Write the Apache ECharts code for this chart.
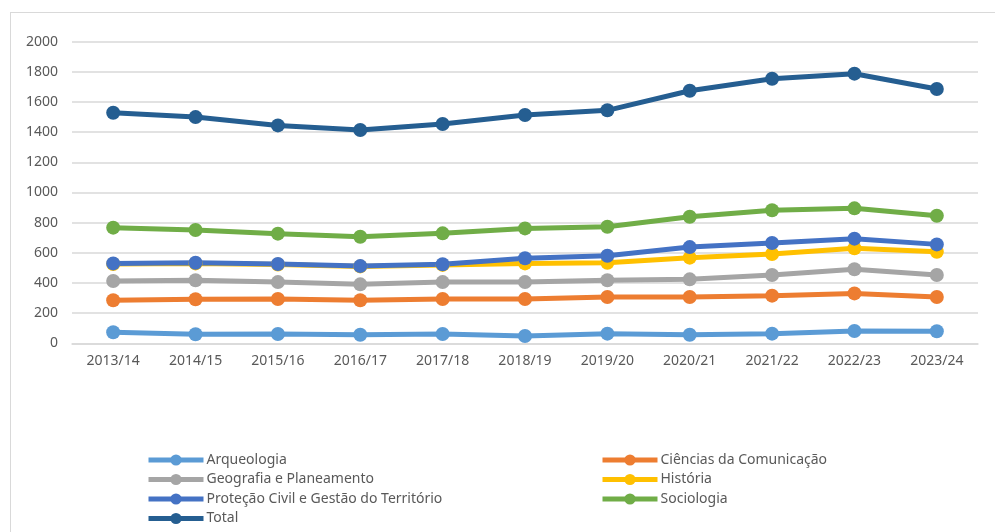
<!DOCTYPE html>
<html>
<head>
<meta charset="utf-8">
<script src="https://cdn.jsdelivr.net/npm/echarts@6/dist/echarts.min.js"></script>
<style>
  html, body { margin: 0; padding: 0; background: #fff; }
  #frame { position: absolute; left: 10px; top: 12px; width: 1000px; height: 540px; border: 1px solid #d9d9d9; }
  #chart { position: absolute; left: 0; top: 0; width: 995px; height: 532px; }
</style>
</head>
<body>
<div id="frame"></div>
<div id="chart"></div>
<script>
const years = ["2013/14", "2014/15", "2015/16", "2016/17", "2017/18", "2018/19", "2019/20", "2020/21", "2021/22", "2022/23", "2023/24"];

const arqueologia = [73, 60, 62, 57, 62, 48, 64, 57, 64, 82, 80];
const ciencias = [285, 292, 294, 285, 294, 294, 307, 307, 316, 331, 307];
const geografia = [413, 418, 406, 391, 406, 406, 418, 424, 453, 491, 453];
const historia = [526, 530, 522, 510, 520, 530, 534, 568, 592, 630, 607];
const protecao = [530, 534, 526, 512, 524, 564, 581, 638, 665, 694, 656];
const sociologia = [767, 751, 727, 707, 729, 762, 773, 839, 882, 895, 846];
const total = [1529, 1500, 1445, 1414, 1454, 1514, 1545, 1675, 1754, 1788, 1686];

const seriesDefs = [
  { name: "Arqueologia", data: arqueologia, color: "#5B9BD5" },
  { name: "Ciências da Comunicação", data: ciencias, color: "#ED7D31" },
  { name: "Geografia e Planeamento", data: geografia, color: "#A5A5A5" },
  { name: "História", data: historia, color: "#FFC000" },
  { name: "Proteção Civil e Gestão do Território", data: protecao, color: "#4472C4" },
  { name: "Sociologia", data: sociologia, color: "#70AD47" },
  { name: "Total", data: total, color: "#255E91" }
];

const textColor = "#595959";
const font = "'Noto Sans', sans-serif";

const legendBase = {
  orient: "vertical",
  padding: 0,
  height: 100,
  itemWidth: 55,
  itemHeight: 14,
  itemGap: 5.5,
  lineStyle: { width: 5 },
  textStyle: { color: textColor, fontSize: 14, fontFamily: font, padding: [0, 0, 0, -2] },
  selectedMode: false
};

const chart = echarts.init(document.getElementById("chart"));
chart.setOption({
  animation: false,
  textStyle: { fontFamily: font },
  grid: { left: 72, right: 17, top: 41.7, bottom: 188.7, containLabel: false, outerBoundsMode: "none" },
  legend: [
    Object.assign({}, legendBase, {
      left: 146, top: 453,
      data: ["Arqueologia", "Geografia e Planeamento", "Proteção Civil e Gestão do Território", "Total"]
    }),
    Object.assign({}, legendBase, {
      left: 600, top: 453,
      data: ["Ciências da Comunicação", "História", "Sociologia"]
    })
  ],
  xAxis: {
    type: "category",
    data: years,
    boundaryGap: true,
    axisLine: { show: true, lineStyle: { color: "#d9d9d9", width: 1.5 } },
    axisTick: { show: false },
    axisLabel: { color: textColor, fontSize: 14, fontFamily: font, margin: 11 }
  },
  yAxis: {
    type: "value",
    min: 0,
    max: 2000,
    interval: 200,
    axisLine: { show: false },
    axisTick: { show: false },
    axisLabel: { color: textColor, fontSize: 14, fontFamily: font, margin: 14, formatter: (v) => String(v) },
    splitLine: { lineStyle: { color: "#d9d9d9", width: 1.5 } }
  },
  series: seriesDefs.map((s) => ({
    type: "line",
    name: s.name,
    data: s.data,
    color: s.color,
    symbol: "circle",
    symbolSize: 14,
    lineStyle: { width: 5, color: s.color },
    itemStyle: { color: s.color },
    emphasis: { disabled: true }
  }))
});
</script>
</body>
</html>
